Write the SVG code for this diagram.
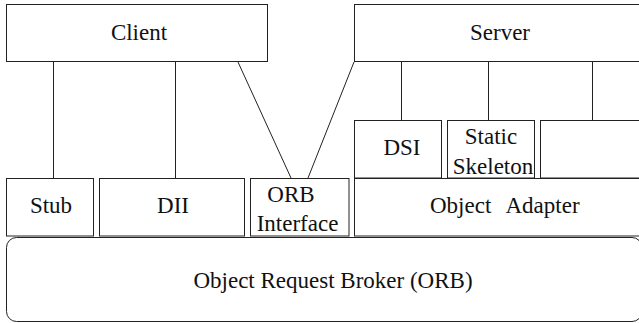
<svg xmlns="http://www.w3.org/2000/svg" width="639" height="323" viewBox="0 0 639 323">
<style>
.b{fill:#fff;stroke:#222;stroke-width:1}
.t{font-size:23px;fill:#111;text-anchor:middle}
.c{stroke:#222;stroke-width:1;fill:none}
</style>
<rect width="639" height="323" fill="#fff"/>
<g id="connectors">
<line class="c" x1="53.5" y1="62" x2="53.5" y2="178"/>
<line class="c" x1="175.5" y1="62" x2="175.5" y2="178"/>
<line class="c" x1="238" y1="62" x2="291" y2="178"/>
<line class="c" x1="354" y1="62" x2="308" y2="178"/>
<line class="c" x1="401.5" y1="62" x2="401.5" y2="120"/>
<line class="c" x1="488.5" y1="62" x2="488.5" y2="120"/>
<line class="c" x1="592.5" y1="62" x2="592.5" y2="120"/>
</g>
<g font-family="'Liberation Serif', 'DejaVu Serif', serif">
<g id="client"><rect class="b" x="6.5" y="4.5" width="261" height="57"/><text class="t" x="139" y="40">Client</text></g>
<g id="server"><rect class="b" x="354.5" y="4.5" width="300" height="57"/><text class="t" x="500" y="40">Server</text></g>
<g id="dsi"><rect class="b" x="354.5" y="120.5" width="87" height="57.5"/><text class="t" x="402" y="155">DSI</text></g>
<g id="skeleton"><rect class="b" x="447.5" y="120.5" width="87" height="57.5"/><text class="t" x="491" y="143.5">Static</text><text class="t" x="493" y="173.5">Skeleton</text></g>
<g id="other"><rect class="b" x="540.5" y="120.5" width="120" height="57.5"/></g>
<g id="stub"><rect class="b" x="6.5" y="178.5" width="87" height="57.5"/><text class="t" x="51" y="213">Stub</text></g>
<g id="dii"><rect class="b" x="99.5" y="178.5" width="145" height="57.5"/><text class="t" x="173" y="213">DII</text></g>
<g id="orbif"><rect class="b" x="250.5" y="178.5" width="98.5" height="57.5"/><text class="t" x="291" y="201.5">ORB</text><text class="t" x="297.5" y="230.5">Interface</text></g>
<g id="adapter"><rect class="b" x="354.5" y="178.5" width="300" height="57.5"/><text class="t" style="text-anchor:start" y="213"><tspan x="430">Object</tspan><tspan x="505.5">Adapter</tspan></text></g>
<g id="orb"><rect class="b" x="6.5" y="237.5" width="635.5" height="84" rx="10" ry="10"/><text class="t" x="333" y="288">Object Request Broker (ORB)</text></g>
</g>
</svg>
